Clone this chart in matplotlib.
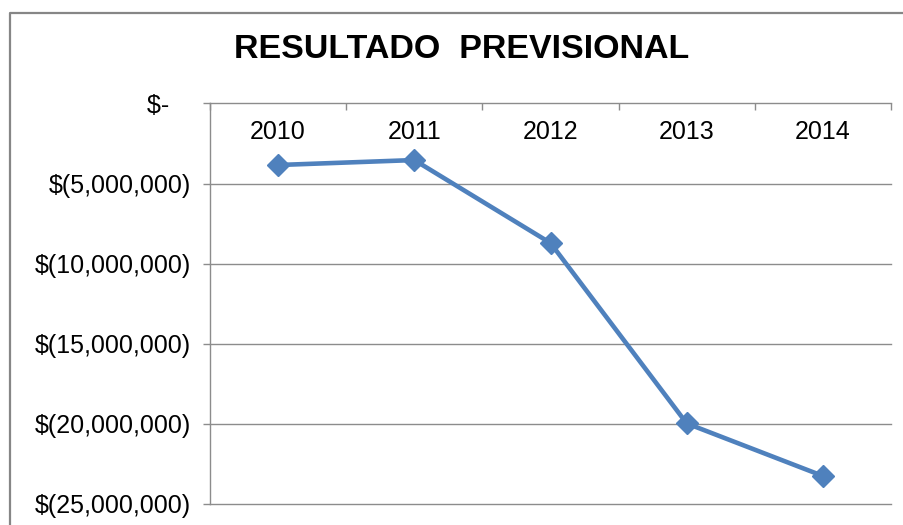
import numpy as np
import matplotlib
matplotlib.use("Agg")
import matplotlib.pyplot as plt
from matplotlib.lines import Line2D
from matplotlib.ticker import FixedLocator, FuncFormatter

years = ["2010", "2011", "2012", "2013", "2014"]
resultado = [-3840000, -3530000, -8710000, -19970000, -23250000]
y_ticks = [0, -5000000, -10000000, -15000000, -20000000, -25000000]

plt.rcParams['font.family'] = ['Liberation Sans', 'DejaVu Sans']

fig = plt.figure(figsize=(9.04, 5.25), dpi=100)
ax = fig.add_axes([210/904, 1-504/525, (891-210)/904, (504-103.5)/525])

# marco gris del grafico (solo lados superior e izquierdo visibles)
bx, by = 9.5/904, 1-12.5/525
fig.add_artist(Line2D([bx, bx, 1.01], [-0.01, by, by], transform=fig.transFigure,
                      color='#868686', linewidth=1.6))

x = np.arange(len(years))
ax.plot(x, resultado, color='#4F81BD', linewidth=3.3, marker='D',
        markersize=11, markeredgecolor='#4F81BD', markerfacecolor='#4F81BD',
        zorder=3, clip_on=False)

ax.set_xlim(-0.5, len(years) - 0.5)
ax.set_ylim(-25000000, 0)


def money(v, pos):
    if v == 0:
        return "$-   "
    return "$({:,.0f})".format(abs(v))


ax.yaxis.set_major_locator(FixedLocator(y_ticks))
ax.yaxis.set_major_formatter(FuncFormatter(money))
for yv in y_ticks[1:]:
    ax.axhline(yv, color='#8c8c8c', linewidth=1.0, zorder=0, clip_on=False)

# eje de categorias en la parte superior (valor 0)
ax.spines['bottom'].set_position(('data', 0))
ax.spines['top'].set_visible(False)
ax.spines['right'].set_visible(False)
for s in ['bottom', 'left']:
    ax.spines[s].set_color('#8c8c8c')
    ax.spines[s].set_linewidth(1.0)

ax.set_xticks(x)
ax.set_xticklabels(years)
ax.set_xticks(np.arange(-0.5, len(years)), minor=True)
ax.tick_params(axis='x', which='major', length=0, pad=12, labelsize=18)
ax.tick_params(axis='x', which='minor', length=5, direction='out',
               color='#8c8c8c', width=1.0)
ax.tick_params(axis='y', length=5, direction='out', color='#8c8c8c',
               width=1.0, pad=9, labelsize=18)

fig.text(462/904, 1-50/525, "RESULTADO  PREVISIONAL", ha='center',
         va='center', fontsize=24.5, fontweight='bold')

fig.savefig("out.png", dpi=100)
